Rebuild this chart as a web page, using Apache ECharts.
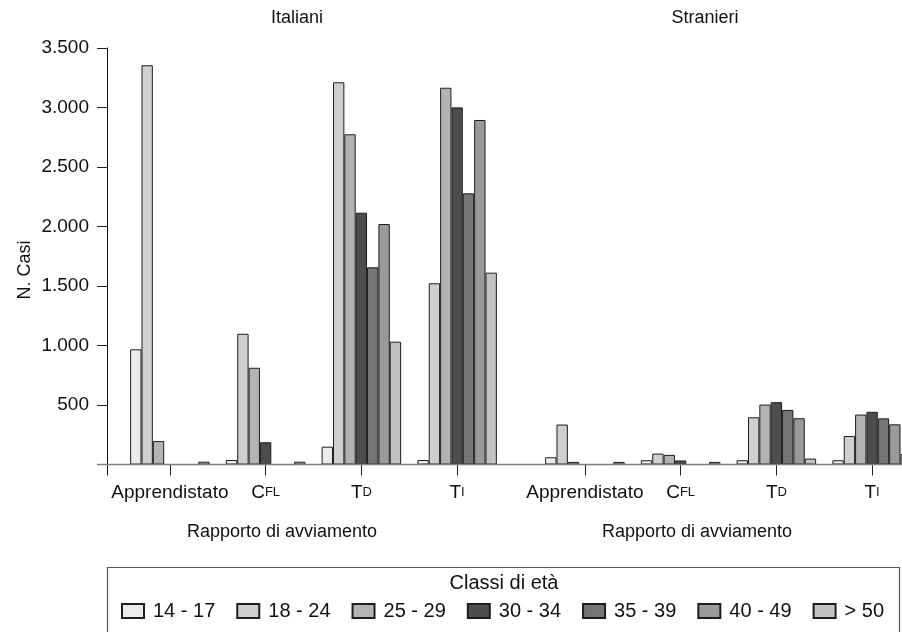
<!DOCTYPE html>
<html><head><meta charset="utf-8">
<script src="https://cdn.jsdelivr.net/npm/echarts@6/dist/echarts.min.js"></script>
<style>html,body{margin:0;padding:0;background:#fff}#c{width:902px;height:632px}</style>
</head><body><div id="c"></div>
<script>
const categories = ['Apprendistato', 'CFL', 'TD', 'TI'];
const panelTitles = ['Italiani', 'Stranieri'];
const ageClasses = ['14 - 17', '18 - 24', '25 - 29', '30 - 34', '35 - 39', '40 - 49', '> 50'];
const yTicks = [500, 1000, 1500, 2000, 2500, 3000, 3500];
const xTitle = 'Rapporto di avviamento';
const yTitle = 'N. Casi';
const legendTitle = 'Classi di età';

// values per age class, in category order [Apprendistato, CFL, TD, TI]
const italiani_14_17 = [968, 38, 150, 38];
const italiani_18_24 = [3355, 1099, 3212, 1523];
const italiani_25_29 = [197, 813, 2775, 3166];
const italiani_30_34 = [0, 187, 2116, 3001];
const italiani_35_39 = [0, 0, 1657, 2279];
const italiani_40_49 = [0, 0, 2021, 2895];
const italiani_over50 = [24, 24, 1032, 1612];

const stranieri_14_17 = [61, 36, 36, 36];
const stranieri_18_24 = [336, 92, 397, 240];
const stranieri_25_29 = [22, 81, 504, 420];
const stranieri_30_34 = [0, 34, 524, 443];
const stranieri_35_39 = [0, 0, 459, 388];
const stranieri_40_49 = [0, 0, 389, 338];
const stranieri_over50 = [22, 22, 50, 88];

const italiani = [italiani_14_17, italiani_18_24, italiani_25_29, italiani_30_34, italiani_35_39, italiani_40_49, italiani_over50];
const stranieri = [stranieri_14_17, stranieri_18_24, stranieri_25_29, stranieri_30_34, stranieri_35_39, stranieri_40_49, stranieri_over50];

const colors = ['#ebebeb', '#cfcfcf', '#b3b3b3', '#4d4d4d', '#757575', '#9a9a9a', '#c2c2c2'];
const FONT = '"Liberation Sans", Arial, Helvetica, sans-serif';

function fmt(v) { return String(v).replace(/\B(?=(\d{3})+(?!\d))/g, '.'); }

const catLabelRich = {
  big: { fontSize: 19, fontFamily: FONT, color: '#111' },
  sm: { fontSize: 13, fontFamily: FONT, color: '#111' }
};
function catFormatter(v) {
  if (v === 'CFL') return '{big|C}{sm|FL}';
  if (v === 'TD') return '{big|T}{sm|D}';
  if (v === 'TI') return '{big|T}{sm|I}';
  return '{big|' + v + '}';
}

const grids = [
  { left: 122, top: 48, width: 383, height: 427, outerBoundsMode: 'none', containLabel: false },
  { left: 537, top: 48, width: 383, height: 427, outerBoundsMode: 'none', containLabel: false }
];

const xAxes = [0, 1].map(i => ({
  type: 'category', gridIndex: i, data: categories,
  axisLine: { show: false, onZero: true },
  axisTick: { show: true, alignWithLabel: true, length: 11, lineStyle: { color: '#222', width: 1 } },
  axisLabel: { interval: 0, margin: 8, formatter: catFormatter, rich: catLabelRich },
  splitLine: { show: false }
}));

const yAxes = [0, 1].map(i => ({
  type: 'value', gridIndex: i, min: -88, max: 3500,
  show: i === 0,
  offset: 15,
  axisLine: { show: true, lineStyle: { color: '#111', width: 1 } },
  axisTick: { show: true, length: 10, customValues: yTicks, lineStyle: { color: '#222' } },
  axisLabel: { margin: 18, customValues: yTicks, formatter: fmt, fontSize: 19, fontFamily: FONT, color: '#111' },
  splitLine: { show: false }
}));

const series = [];
[italiani, stranieri].forEach((panel, p) => {
  panel.forEach((vals, k) => {
    series.push({
      type: 'bar', name: ageClasses[k], xAxisIndex: p, yAxisIndex: p,
      data: vals, barGap: '0%', barCategoryGap: '17%',
      itemStyle: { color: colors[k], borderColor: '#1e1e1e', borderWidth: 1 },
      emphasis: { disabled: true }, animation: false
    });
  });
});

function txt(text, x, y, size, extra) {
  return Object.assign({
    type: 'text', z: 100, x: x, y: y,
    style: { text: text, x: 0, y: 0, fill: '#111', fontSize: size, fontFamily: FONT, align: 'center', verticalAlign: 'middle' }
  }, extra || {});
}

const chart = echarts.init(document.getElementById('c'), null, { renderer: 'canvas' });
chart.setOption({
  animation: false,
  backgroundColor: '#fff',
  grid: grids, xAxis: xAxes, yAxis: yAxes, series: series,
  legend: {
    data: ageClasses, left: 116, top: 596, itemWidth: 22, itemHeight: 14, itemGap: 21,
    icon: 'rect', selectedMode: false,
    textStyle: { fontSize: 20, fontFamily: FONT, color: '#111', padding: [0, 0, 0, 4] }
  }
});

const y0 = chart.convertToPixel({ yAxisIndex: 0 }, 0);
chart.setOption({
  graphic: [
    { type: 'line', z: 90, shape: { x1: 97, y1: y0, x2: 902, y2: y0 }, style: { stroke: '#808080', lineWidth: 1.5 } },
    txt(panelTitles[0], 297, 18, 18),
    txt(panelTitles[1], 705, 18, 18),
    txt(xTitle, 282, 532, 18),
    txt(xTitle, 697, 532, 18),
    txt(yTitle, 25, 270, 18, { rotation: Math.PI / 2 }),
    { type: 'rect', z: 80, shape: { x: 107.5, y: 567.5, width: 792, height: 80 }, style: { fill: 'none', stroke: '#555', lineWidth: 1.2 } },
    txt(legendTitle, 504, 583, 20)
  ]
});
</script></body></html>
